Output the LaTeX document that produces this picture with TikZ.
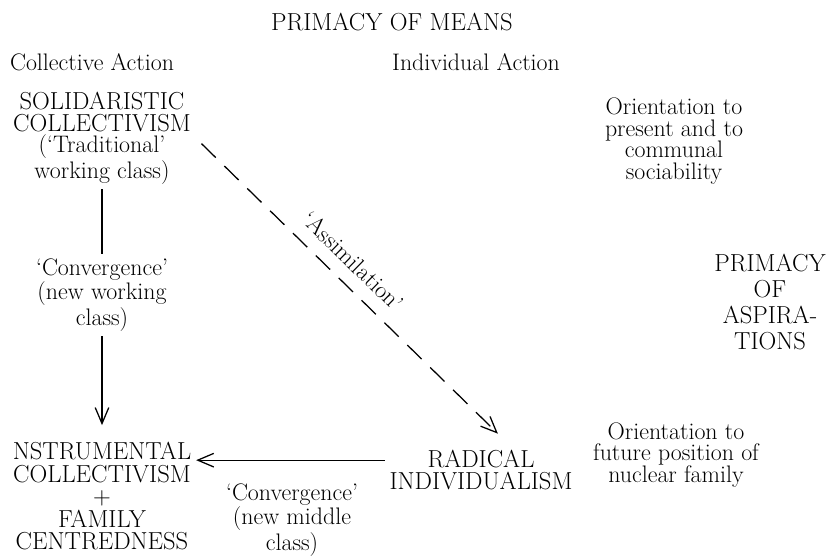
\documentclass[tikz,border=0pt]{standalone}
\usetikzlibrary{arrows.meta, positioning}

\newcommand{\capfont}{\fontsize{17.5}{16}\selectfont}

\begin{document}
\begin{tikzpicture}[
    x=0.025cm, y=-0.025cm,
    txt/.style={align=center, font=\fontsize{17}{15.5}\selectfont},
    caps/.style={align=center, font=\capfont},
    head/.style={align=center, font=\fontsize{17.5}{18.5}\selectfont},
    arr/.style={-{Straight Barb[length=4mm, width=3.4mm]}, line width=0.9pt},
    link/.style={line width=0.9pt}
]
    \useasboundingbox (0,0) rectangle (826,555);

    % headings
    \node[caps] (means) at (392,22) {PRIMACY OF MEANS};
    \node[txt] (collective) at (92,62) {Collective Action};
    \node[txt] (individual) at (476,62) {Individual Action};
    \node[head] (aspir) at (770,302) {PRIMACY\\OF\\ASPIRA-\\TIONS};

    % types of orientation
    \node[txt] (solid) at (102,138) {{\capfont SOLIDARISTIC}\\{\capfont COLLECTIVISM}\\(`Traditional'\\working class)};
    \node[txt] (present) at (674,141) {Orientation to\\present and to\\communal\\sociability};
    \node[txt] (convwork) at (102,295) {`Convergence'\\(new working\\class)};
    \node[caps] (instr) at (102,496) {NSTRUMENTAL\\COLLECTIVISM\\+\\FAMILY\\CENTREDNESS};
    \node[caps] (radical) at (481,470) {RADICAL\\INDIVIDUALISM};
    \node[txt] (future) at (676,455) {Orientation to\\future position of\\nuclear family};
    \node[txt] (convmid) at (292,520) {`Convergence'\\(new middle\\class)};

    \coordinate (hx) at ([yshift=7pt]radical.west);

    \draw[link] (solid) -- (convwork);
    \draw[arr, shorten >=0.3cm] (convwork) -- (instr);
    \draw[arr] (hx) -- (hx -| instr.east);
    \draw[arr, dash pattern=on 0.5cm off 0.3cm, shorten <=0.2cm] (solid.east) -- ([xshift=12pt, yshift=8pt]radical.north)
        node[pos=0.47, sloped, above=6pt, font=\fontsize{17}{15.5}\selectfont] (assim) {`Assimilation'};
\end{tikzpicture}
\end{document}
